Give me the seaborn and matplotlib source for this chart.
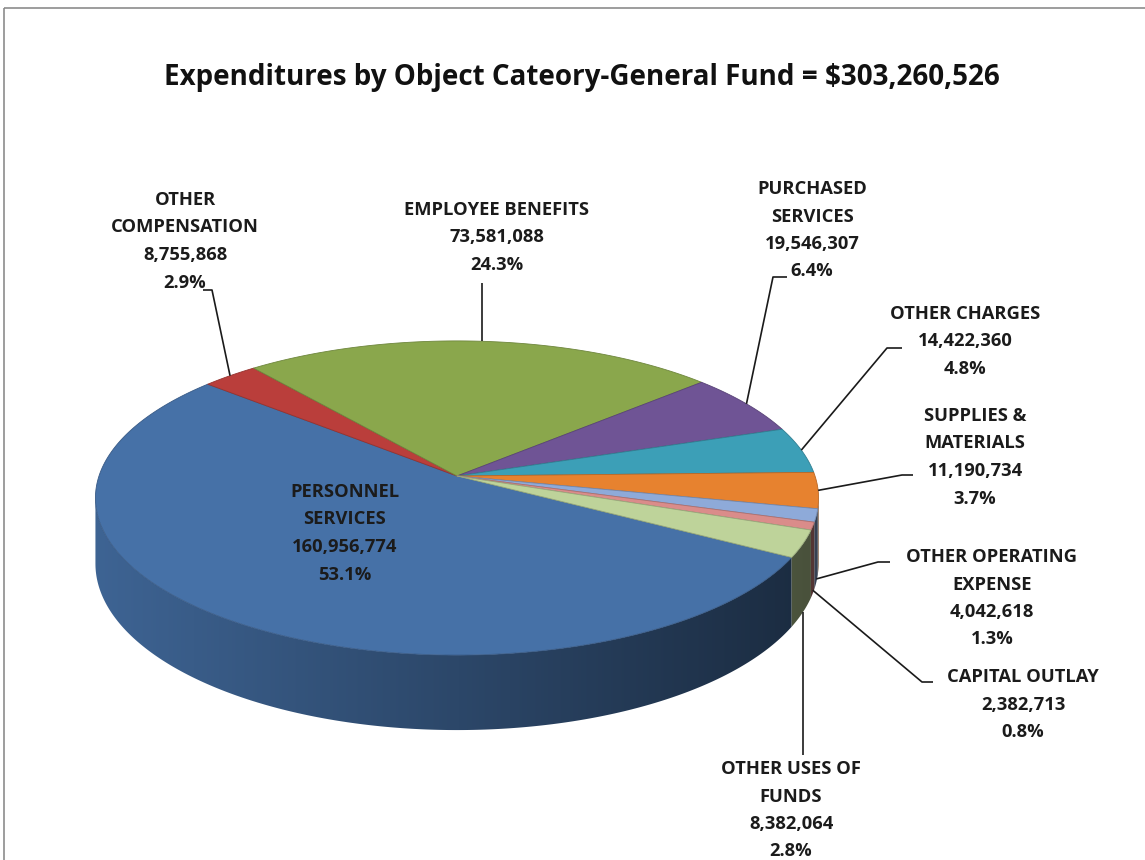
import numpy as np
import matplotlib
matplotlib.use("Agg")
import matplotlib.pyplot as plt
from matplotlib.collections import PolyCollection
from matplotlib.patches import Rectangle, Polygon
import seaborn as sns

# ---- data -------------------------------------------------------------
categories = [
    "PERSONNEL\nSERVICES",
    "OTHER\nCOMPENSATION",
    "EMPLOYEE BENEFITS",
    "PURCHASED\nSERVICES",
    "OTHER CHARGES",
    "SUPPLIES &\nMATERIALS",
    "OTHER OPERATING\nEXPENSE",
    "CAPITAL OUTLAY",
    "OTHER USES OF\nFUNDS",
]
amounts = [160956774, 8755868, 73581088, 19546307, 14422360,
           11190734, 4042618, 2382713, 8382064]
slice_colors = ["#4671A7", "#BA3E3B", "#8AA74C", "#6F5495", "#3C9FB7",
                "#E7822F", "#8EAAD9", "#DA8C8A", "#BED39A"]
title_text = "Expenditures by Object Cateory-General Fund"

# ---- layout (pixel space) ----------------------------------------------
W, H = 1145, 860
CX, CY = 457, 476          # centre of the top face
RX, RY = 358, 154          # radii of the tilted disc
PERSP = 0.14               # far side shrink
DEPTH = 64.5               # thickness of the disc
START = -29.5              # angle where the first slice begins (clockwise)

label_xy = [(345, 492), (185, 200), (497, 210), (812, 189), (965, 314),
            (975, 416), (992, 557), (1023, 677), (791, 769)]
LINE_STEP = 27.5
# leader line points on the label side; "v" = vertical line reaching y
leader_start = [None, [(203, 290), (212, 290)], ("v", 283), [(787, 277), (773, 277)],
                [(902, 348), (887, 348)], [(913, 475), (902, 475)],
                [(890, 562), (878, 562)], [(933, 682), (922, 682)], ("v", 755)]
anchor_drop = [0, 0, 0, 0, 0, 0, 0.95, 0.95, 1.0]

sns.set_theme(style="white")
plt.rcParams["font.family"] = ["Open Sans", "DejaVu Sans"]

fig = plt.figure(figsize=(W / 100, H / 100), dpi=100)
ax = fig.add_axes([0, 0, 1, 1])


def project(theta, drop=0.0):
    t = np.radians(theta)
    s, c = np.sin(t), np.cos(t)
    w = 1 + PERSP * s
    return CX + RX * c / w, CY - RY * s / w + drop / w


def side_shade(x):
    # light comes from the left: the wall darkens towards the right
    u = np.clip((x - CX) / RX, -1, 1)
    return 0.38 + 0.5 * (1 - u) / 2


total = sum(amounts)
fracs = np.array(amounts) / total
starts = START - 360 * np.concatenate([[0], np.cumsum(fracs)[:-1]])
ends = starts - 360 * fracs

# visible front wall lies between the two silhouette angles
sil = np.degrees(np.arcsin(PERSP))
vis_lo, vis_hi = -180 + sil, -sil

for st, en, col in zip(starts, ends, slice_colors):
    base = np.array(matplotlib.colors.to_rgb(col))
    for off in (0, 360, 720):
        a_hi = min(st + off, vis_hi)
        a_lo = max(en + off, vis_lo)
        if a_hi <= a_lo:
            continue
        th = np.linspace(a_hi, a_lo, max(3, int((a_hi - a_lo) * 2) + 1))
        tx, ty = project(th)
        bx, by = project(th[::-1], DEPTH)
        pts = np.column_stack([np.concatenate([tx, bx]), np.concatenate([ty, by])])
        wall = Polygon(pts, closed=True, facecolor="none", edgecolor="none")
        ax.add_patch(wall)
        x0, x1 = pts[:, 0].min() - 1, pts[:, 0].max() + 1
        y0, y1 = pts[:, 1].min() - 1, pts[:, 1].max() + 1
        xs = np.linspace(x0, x1, 256)
        grad = np.clip(side_shade(xs)[:, None] * base[None, :], 0, 1)[None, :, :]
        im = ax.imshow(grad, extent=(x0, x1, y1, y0), aspect="auto",
                       interpolation="bilinear", zorder=1)
        im.set_clip_path(wall)

top_polys, edge_cols = [], []
for st, en, col in zip(starts, ends, slice_colors):
    th = np.linspace(st, en, max(3, int((st - en) * 2) + 1))
    xs, ys = project(th)
    top_polys.append([(CX, CY)] + list(zip(xs, ys)))
    edge_cols.append(tuple(0.8 * np.array(matplotlib.colors.to_rgb(col))))
ax.add_collection(PolyCollection(top_polys, facecolors=slice_colors,
                                 edgecolors=edge_cols, linewidths=0.6, zorder=2))

# ---- labels and leader lines ---------------------------------------------
txt_kw = dict(ha="center", va="center", fontsize=13.2, fontweight="bold",
              color="#1b1b1b", zorder=4)
for i, (name, amt) in enumerate(zip(categories, amounts)):
    lines = name.split("\n") + [f"{amt:,}", f"{amt / total:.1%}"]
    lx, ly = label_xy[i]
    for j, line in enumerate(lines):
        ax.text(lx, ly + j * LINE_STEP, line, **txt_kw)

    spec = leader_start[i]
    if spec is None:
        continue
    mid = (starts[i] + ends[i]) / 2
    axp, ayp = project(mid, DEPTH * anchor_drop[i])
    if spec[0] == "v":
        pts = [(axp, spec[1]), (axp, ayp)]
    else:
        pts = list(spec) + [(axp, ayp)]
    px, py = zip(*pts)
    ax.plot(px, py, color="#1a1a1a", lw=1.2, zorder=3, solid_capstyle="butt")

ax.text(582, 78, f"{title_text} = ${total:,}", ha="center", va="center",
        fontsize=20, fontweight="bold", color="#111111", zorder=4)

ax.add_patch(Rectangle((4, 8), W + 50, H + 50, fill=False,
                       edgecolor="#8c8c8c", lw=1.2, zorder=5))

ax.set_xlim(0, W)
ax.set_ylim(H, 0)
ax.axis("off")

fig.savefig("out.png", dpi=100, facecolor="white")
